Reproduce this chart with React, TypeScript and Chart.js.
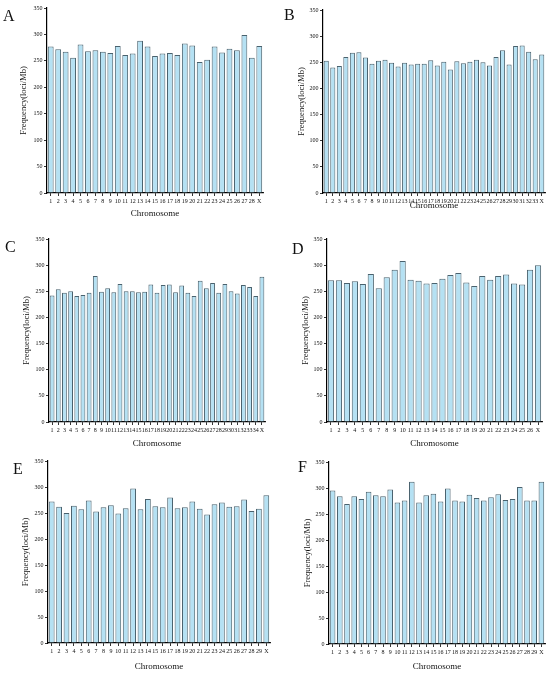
import { useEffect, useRef } from 'react'
import Chart from 'chart.js/auto'

// chromosome labels and frequencies (loci/Mb)
const labelsA = ['1','2','3','4','5','6','7','8','9','10','11','12','13','14','15','16','17','18','19','20','21','22','23','24','25','26','27','28','X']
const valuesA = [277,272,267,256,281,268,270,267,265,278,261,264,288,277,259,264,265,261,283,279,248,252,277,266,273,270,299,256,278]

const labelsB = ['1','2','3','4','5','6','7','8','9','10','11','12','13','14','15','16','17','18','19','20','21','22','23','24','25','26','27','28','29','30','31','32','33','X']
const valuesB = [253,240,243,260,268,269,259,247,253,255,249,242,249,246,247,247,254,244,251,236,252,248,251,255,250,244,260,273,246,281,282,270,256,265]

const labelsC = ['1','2','3','4','5','6','7','8','9','10','11','12','13','14','15','16','17','18','19','20','21','22','23','24','25','26','27','28','29','30','31','32','33','34','X']
const valuesC = [242,254,247,250,241,243,247,279,249,256,248,264,250,250,248,249,263,247,262,263,248,261,247,241,270,256,266,247,264,250,246,262,258,241,278]

const labelsD = ['1','2','3','4','5','6','7','8','9','10','11','12','13','14','15','16','17','18','19','20','21','22','23','24','25','26','X']
const valuesD = [271,271,266,269,264,283,256,277,291,308,272,270,265,266,274,281,285,267,260,279,272,279,282,265,263,291,300]

const labelsE = ['1','2','3','4','5','6','7','8','9','10','11','12','13','14','15','16','17','18','19','20','21','22','23','24','25','26','27','28','29','X']
const valuesE = [272,262,250,264,257,274,253,261,265,249,259,297,257,277,263,261,280,259,261,272,258,247,267,270,262,263,276,254,258,284]

const labelsF = ['1','2','3','4','5','6','7','8','9','10','11','12','13','14','15','16','17','18','19','20','21','22','23','24','25','26','27','28','29','X']
const valuesF = [295,284,269,284,279,293,286,284,297,272,276,312,272,286,289,274,299,276,274,287,281,276,282,288,277,279,302,276,276,312]

const yTicks = [0, 50, 100, 150, 200, 250, 300, 350]

const FILL = '#b5e1f3'
const EDGE = '#4a626e'
const SERIF = '"Liberation Serif", "Times New Roman", serif'
const W = 275
const H = 225

interface PanelProps {
  letter: string
  labels: string[]
  values: number[]
  x: number
  y: number
  plotLeft: number
  plotRight: number
  plotTop: number
  plotBottom: number
  yTitleX: number
  xTitleY: number
  letterX: number
  letterY: number
}

function Panel(p: PanelProps) {
  const canvasRef = useRef<HTMLCanvasElement>(null)

  useEffect(() => {
    if (!canvasRef.current) return
    const padLeft = p.yTitleX - 5.1
    const padBottom = H - (p.xTitleY + 5.4)

    const chart = new Chart(canvasRef.current, {
      type: 'bar',
      data: {
        labels: p.labels,
        datasets: [{
          data: p.values,
          backgroundColor: FILL,
          borderColor: EDGE,
          borderWidth: 1,
          barPercentage: 0.78,
          categoryPercentage: 1,
        }]
      },
      options: {
        responsive: false,
        animation: false,
        events: [],
        layout: {
          padding: { left: padLeft, right: W - p.plotRight, top: p.plotTop, bottom: padBottom }
        },
        plugins: {
          legend: { display: false },
          tooltip: { enabled: false },
        },
        scales: {
          x: {
            grid: { display: true, drawOnChartArea: false, offset: false, tickLength: 3, color: '#000', lineWidth: 0.8 },
            border: { display: true, color: '#000', width: 1.2 },
            ticks: {
              autoSkip: false,
              maxRotation: 0,
              minRotation: 0,
              padding: 1.5,
              color: '#111',
              font: { family: SERIF, size: 6 },
            },
            title: {
              display: true,
              text: 'Chromosome',
              color: '#111',
              padding: 0,
              font: { family: SERIF, size: 9 },
            },
            afterFit: (scale: any) => { scale.height = (H - padBottom) - p.plotBottom },
          },
          y: {
            min: 0,
            max: 350,
            afterBuildTicks: (scale: any) => { scale.ticks = yTicks.map(v => ({ value: v })) },
            grid: { display: true, drawOnChartArea: false, tickLength: 3, color: '#000', lineWidth: 0.8 },
            border: { display: true, color: '#000', width: 1.2 },
            ticks: {
              padding: 1.5,
              color: '#111',
              font: { family: SERIF, size: 6 },
            },
            title: {
              display: true,
              text: 'Frequency(loci/Mb)',
              color: '#111',
              padding: 0,
              font: { family: SERIF, size: 8.5 },
            },
            afterFit: (scale: any) => { scale.width = p.plotLeft - padLeft },
          }
        }
      }
    })

    return () => chart.destroy()
  }, [p])

  return (
    <div style={{ position: 'absolute', left: p.x, top: p.y, width: W, height: H }}>
      <canvas ref={canvasRef} width={W} height={H} style={{ display: 'block' }} />
      <div style={{
        position: 'absolute', left: p.letterX, top: p.letterY - 9,
        fontFamily: SERIF, fontSize: 16, lineHeight: '18px', color: '#111',
      }}>{p.letter}</div>
    </div>
  )
}

const panels: PanelProps[] = [
  { letter: 'A', labels: labelsA, values: valuesA, x: 0, y: 0,
    plotLeft: 47, plotRight: 263, plotTop: 8, plotBottom: 193, yTitleX: 24, xTitleY: 214, letterX: 3, letterY: 16 },
  { letter: 'B', labels: labelsB, values: valuesB, x: 275, y: 0,
    plotLeft: 48, plotRight: 270, plotTop: 10, plotBottom: 193, yTitleX: 27, xTitleY: 206, letterX: 9, letterY: 15 },
  { letter: 'C', labels: labelsC, values: valuesC, x: 0, y: 225,
    plotLeft: 49, plotRight: 265, plotTop: 14, plotBottom: 197, yTitleX: 27, xTitleY: 219, letterX: 5, letterY: 22 },
  { letter: 'D', labels: labelsD, values: valuesD, x: 275, y: 225,
    plotLeft: 52, plotRight: 267, plotTop: 14, plotBottom: 197, yTitleX: 31, xTitleY: 219, letterX: 17, letterY: 24 },
  { letter: 'E', labels: labelsE, values: valuesE, x: 0, y: 450,
    plotLeft: 48, plotRight: 270, plotTop: 11, plotBottom: 193, yTitleX: 26, xTitleY: 217, letterX: 13, letterY: 19 },
  { letter: 'F', labels: labelsF, values: valuesF, x: 275, y: 450,
    plotLeft: 54, plotRight: 270, plotTop: 12, plotBottom: 194, yTitleX: 33, xTitleY: 217, letterX: 23, letterY: 17 },
]

export default function App() {
  return (
    <div style={{ position: 'absolute', left: 0, top: 0, width: 550, height: 675, background: '#fff', overflow: 'hidden' }}>
      {panels.map(p => <Panel key={p.letter} {...p} />)}
    </div>
  )
}
